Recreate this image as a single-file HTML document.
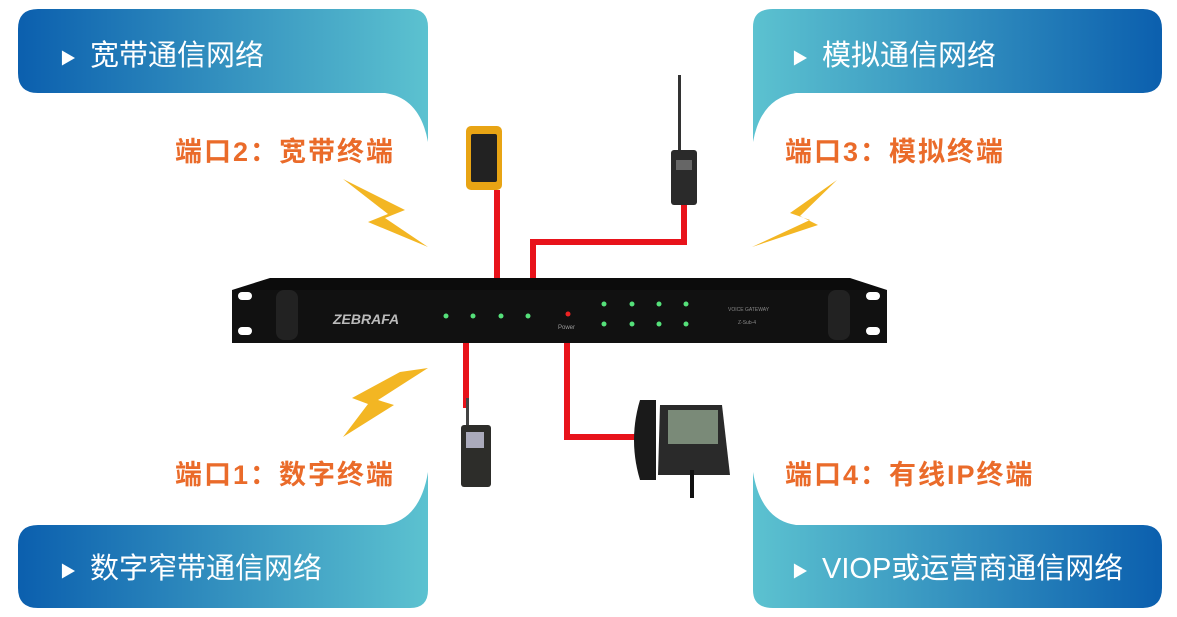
<!DOCTYPE html>
<html><head><meta charset="utf-8"><style>
html,body{margin:0;padding:0;background:#fff;width:1177px;height:617px;overflow:hidden}
svg{display:block}
text{font-family:"Liberation Sans","Noto Sans CJK SC",sans-serif}
</style></head><body>
<svg width="1177" height="617" viewBox="0 0 1177 617" xmlns="http://www.w3.org/2000/svg">
<defs>
<linearGradient id="gL" x1="0" y1="0" x2="1" y2="0"><stop offset="0" stop-color="#0b5fae"/><stop offset="1" stop-color="#5cc2d0"/></linearGradient>
<linearGradient id="gR" x1="0" y1="0" x2="1" y2="0"><stop offset="0" stop-color="#5cc2d0"/><stop offset="1" stop-color="#0b5fae"/></linearGradient>
</defs>
<path d="M38 9 H410 Q428 9 428 27 V142 Q420 98 385 93 H38 Q18 93 18 73 V29 Q18 9 38 9Z" fill="url(#gL)"/>
<path d="M773 9 H1142 Q1162 9 1162 29 V73 Q1162 93 1142 93 H796 Q761 98 753 142 V27 Q753 9 773 9Z" fill="url(#gR)"/>
<path d="M38 608 H410 Q428 608 428 590 V472 Q420 520 385 525 H38 Q18 525 18 545 V588 Q18 608 38 608Z" fill="url(#gL)"/>
<path d="M773 608 H1142 Q1162 608 1162 588 V545 Q1162 525 1142 525 H796 Q761 520 753 472 V590 Q753 608 773 608Z" fill="url(#gR)"/>
<g fill="#fff" font-size="29">
<text x="60" y="64" font-size="16">▶</text><text x="90" y="65">宽带通信网络</text>
<text x="792" y="64" font-size="16">▶</text><text x="822" y="65">模拟通信网络</text>
<text x="60" y="577" font-size="16">▶</text><text x="90" y="578">数字窄带通信网络</text>
<text x="792" y="577" font-size="16">▶</text><text x="822" y="578">VIOP或运营商通信网络</text>
</g>
<g fill="#ea6b2a" font-size="27" font-weight="bold" letter-spacing="2">
<text x="175" y="161">端口2：宽带终端</text>
<text x="785" y="161">端口3：模拟终端</text>
<text x="175" y="484">端口1：数字终端</text>
<text x="785" y="484">端口4：有线IP终端</text>
</g>
<g fill="#f3b623">
<path d="M343 179 L405 210 L385 218 L428 247 L368 222 L388 214Z"/>
<path d="M837 180 L790 213 L810 220 L752 247 L818 225 L800 216Z"/>
<path d="M428 368 L378 400 L394 405 L343 437 L368 404 L352 398 L400 372Z"/>
</g>
<g stroke="#e8131b" stroke-width="6" fill="none">
<path d="M497 190 V280"/>
<path d="M684 204 V242 H533 V280"/>
<path d="M466 342 V408"/>
<path d="M567 342 V437 H636"/>
</g>
<path d="M232 290 L270 278 H850 L887 290 V343 H232Z" fill="#0c0c0c"/>
<rect x="232" y="290" width="655" height="53" fill="#111"/>
<rect x="238" y="292" width="14" height="8" rx="4" fill="#fff"/>
<rect x="238" y="327" width="14" height="8" rx="4" fill="#fff"/>
<rect x="866" y="292" width="14" height="8" rx="4" fill="#fff"/>
<rect x="866" y="327" width="14" height="8" rx="4" fill="#fff"/>
<rect x="276" y="290" width="22" height="50" rx="8" fill="#222"/>
<rect x="828" y="290" width="22" height="50" rx="8" fill="#222"/>
<text x="333" y="324" fill="#bbb" font-size="14" font-weight="bold" font-style="italic">ZEBRAFA</text>
<g fill="#55e07a">
<circle cx="446" cy="316" r="2.5"/><circle cx="473" cy="316" r="2.5"/><circle cx="501" cy="316" r="2.5"/><circle cx="528" cy="316" r="2.5"/>
<circle cx="604" cy="304" r="2.5"/><circle cx="632" cy="304" r="2.5"/><circle cx="659" cy="304" r="2.5"/><circle cx="686" cy="304" r="2.5"/>
<circle cx="604" cy="324" r="2.5"/><circle cx="632" cy="324" r="2.5"/><circle cx="659" cy="324" r="2.5"/><circle cx="686" cy="324" r="2.5"/>
</g>
<circle cx="568" cy="314" r="2.5" fill="#e22"/>
<text x="558" y="329" fill="#999" font-size="6">Power</text>
<text x="728" y="311" fill="#888" font-size="5">VOICE GATEWAY</text>
<text x="738" y="324" fill="#888" font-size="5">Z-Sub-4</text>
<rect x="466" y="126" width="36" height="64" rx="5" fill="#e8a414"/>
<rect x="471" y="134" width="26" height="48" rx="2" fill="#222"/>
<rect x="678" y="75" width="3" height="80" fill="#333"/>
<rect x="671" y="150" width="26" height="55" rx="3" fill="#2a2a2a"/>
<rect x="676" y="160" width="16" height="10" fill="#666"/>
<rect x="466" y="398" width="3" height="30" fill="#444"/>
<rect x="461" y="425" width="30" height="62" rx="3" fill="#2d2d2a"/>
<rect x="466" y="432" width="18" height="16" fill="#aab"/>
<path d="M640 400 h16 v80 h-16 q-12 -40 0 -80z" fill="#1a1a1a"/>
<path d="M660 405 h62 l8 70 h-72z" fill="#2a2a2a"/>
<rect x="668" y="410" width="50" height="34" fill="#7a8a78"/>
<rect x="690" y="470" width="4" height="28" fill="#111"/>
</svg>
</body></html>
